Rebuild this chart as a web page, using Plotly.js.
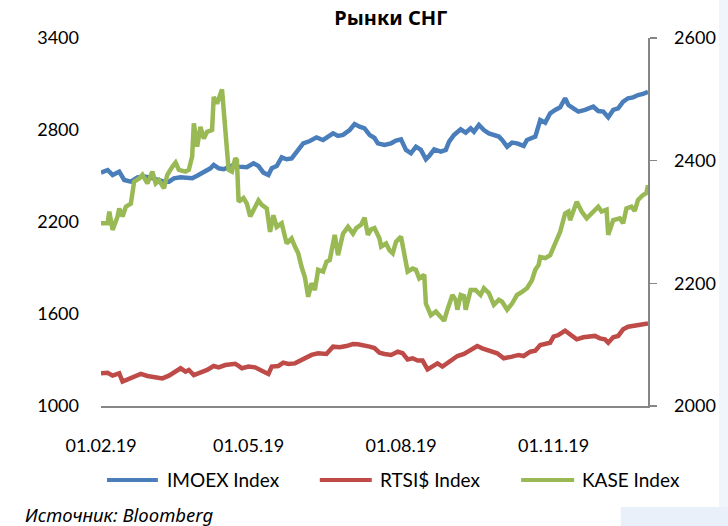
<!DOCTYPE html>
<html><head><meta charset="utf-8">
<script src="https://cdn.plot.ly/plotly-3.0.1.min.js"></script>
<style>html,body{margin:0;padding:0;background:#fff}</style>
</head><body><div id="chart" style="width:728px;height:526px"></div>
<script>
const imoexDates = ['2019-02-01','2019-02-05','2019-02-08','2019-02-12','2019-02-15','2019-02-19','2019-02-23','2019-02-27','2019-03-03','2019-03-07','2019-03-11','2019-03-14','2019-03-17','2019-03-21','2019-03-25','2019-03-28','2019-03-31','2019-04-04','2019-04-08','2019-04-10','2019-04-13','2019-04-16','2019-04-19','2019-04-22','2019-04-25','2019-04-27','2019-04-30','2019-05-04','2019-05-07','2019-05-10','2019-05-13','2019-05-15','2019-05-18','2019-05-21','2019-05-24','2019-05-27','2019-05-30','2019-06-03','2019-06-07','2019-06-11','2019-06-15','2019-06-18','2019-06-21','2019-06-24','2019-06-27','2019-07-01','2019-07-04','2019-07-07','2019-07-10','2019-07-13','2019-07-16','2019-07-18','2019-07-22','2019-07-26','2019-07-29','2019-08-01','2019-08-04','2019-08-07','2019-08-10','2019-08-13','2019-08-16','2019-08-18','2019-08-21','2019-08-25','2019-08-28','2019-08-30','2019-09-02','2019-09-06','2019-09-09','2019-09-12','2019-09-14','2019-09-17','2019-09-20','2019-09-23','2019-09-26','2019-09-29','2019-10-01','2019-10-04','2019-10-07','2019-10-10','2019-10-14','2019-10-16','2019-10-21','2019-10-24','2019-10-27','2019-10-30','2019-11-02','2019-11-05','2019-11-08','2019-11-10','2019-11-13','2019-11-16','2019-11-20','2019-11-25','2019-11-28','2019-12-01','2019-12-04','2019-12-07','2019-12-10','2019-12-13','2019-12-16','2019-12-19','2019-12-22','2019-12-25','2019-12-28'];
const imoexValues = [2522,2539,2507,2528,2474,2463,2491,2496,2489,2478,2463,2463,2485,2491,2489,2485,2502,2528,2550,2572,2550,2544,2557,2572,2561,2561,2557,2583,2565,2522,2507,2550,2565,2622,2609,2615,2659,2713,2728,2752,2735,2757,2778,2761,2768,2800,2839,2822,2811,2768,2748,2713,2702,2713,2731,2739,2670,2648,2691,2670,2609,2631,2674,2659,2670,2724,2768,2804,2783,2811,2789,2833,2800,2778,2768,2757,2735,2691,2718,2713,2696,2735,2757,2865,2848,2909,2931,2948,3007,2963,2941,2920,2931,2952,2924,2920,2883,2931,2941,2985,3007,3013,3028,3035,3050];

const rtsDates = ['2019-02-01','2019-02-05','2019-02-08','2019-02-12','2019-02-14','2019-02-18','2019-02-22','2019-02-25','2019-03-01','2019-03-06','2019-03-10','2019-03-14','2019-03-18','2019-03-21','2019-03-24','2019-03-26','2019-03-29','2019-04-02','2019-04-06','2019-04-10','2019-04-13','2019-04-17','2019-04-20','2019-04-23','2019-04-25','2019-04-27','2019-05-01','2019-05-05','2019-05-09','2019-05-13','2019-05-15','2019-05-19','2019-05-22','2019-05-25','2019-05-29','2019-06-01','2019-06-04','2019-06-08','2019-06-12','2019-06-17','2019-06-21','2019-06-25','2019-06-29','2019-07-03','2019-07-06','2019-07-10','2019-07-13','2019-07-16','2019-07-19','2019-07-22','2019-07-26','2019-07-30','2019-08-02','2019-08-05','2019-08-08','2019-08-11','2019-08-14','2019-08-17','2019-08-20','2019-08-23','2019-08-26','2019-08-29','2019-09-01','2019-09-04','2019-09-08','2019-09-12','2019-09-16','2019-09-19','2019-09-22','2019-09-25','2019-09-28','2019-10-02','2019-10-05','2019-10-07','2019-10-11','2019-10-14','2019-10-18','2019-10-21','2019-10-24','2019-10-27','2019-10-30','2019-11-01','2019-11-04','2019-11-08','2019-11-11','2019-11-15','2019-11-19','2019-11-23','2019-11-26','2019-11-29','2019-12-02','2019-12-04','2019-12-07','2019-12-10','2019-12-13','2019-12-16','2019-12-20','2019-12-24','2019-12-28'];
const rtsValues = [1213,1217,1198,1213,1159,1176,1196,1209,1196,1191,1180,1198,1224,1246,1224,1235,1202,1217,1235,1261,1252,1267,1272,1275,1262,1246,1257,1252,1230,1209,1257,1261,1283,1274,1278,1296,1317,1333,1344,1339,1387,1383,1391,1404,1402,1396,1387,1378,1348,1339,1333,1354,1344,1304,1311,1296,1296,1239,1257,1278,1257,1278,1300,1326,1339,1361,1391,1376,1365,1354,1344,1311,1322,1322,1333,1326,1354,1361,1398,1409,1413,1452,1463,1491,1463,1435,1448,1452,1457,1441,1435,1413,1448,1457,1500,1517,1522,1533,1539];

const kaseDates = ['2019-02-01','2019-02-05','2019-02-06','2019-02-08','2019-02-11','2019-02-12','2019-02-14','2019-02-16','2019-02-19','2019-02-21','2019-02-24','2019-02-26','2019-03-01','2019-03-04','2019-03-06','2019-03-08','2019-03-11','2019-03-13','2019-03-16','2019-03-18','2019-03-20','2019-03-24','2019-03-26','2019-03-28','2019-03-29','2019-03-31','2019-04-02','2019-04-04','2019-04-06','2019-04-09','2019-04-10','2019-04-12','2019-04-15','2019-04-17','2019-04-19','2019-04-21','2019-04-23','2019-04-24','2019-04-25','2019-04-28','2019-04-30','2019-05-02','2019-05-04','2019-05-07','2019-05-09','2019-05-12','2019-05-14','2019-05-16','2019-05-18','2019-05-21','2019-05-24','2019-05-27','2019-05-29','2019-05-31','2019-06-02','2019-06-04','2019-06-06','2019-06-08','2019-06-10','2019-06-12','2019-06-15','2019-06-17','2019-06-19','2019-06-22','2019-06-24','2019-06-27','2019-06-30','2019-07-03','2019-07-05','2019-07-08','2019-07-10','2019-07-12','2019-07-14','2019-07-16','2019-07-19','2019-07-20','2019-07-23','2019-07-25','2019-07-27','2019-07-29','2019-08-01','2019-08-03','2019-08-05','2019-08-08','2019-08-10','2019-08-12','2019-08-15','2019-08-16','2019-08-19','2019-08-22','2019-08-25','2019-08-27','2019-08-29','2019-09-01','2019-09-03','2019-09-04','2019-09-06','2019-09-08','2019-09-09','2019-09-12','2019-09-15','2019-09-18','2019-09-20','2019-09-23','2019-09-26','2019-09-29','2019-10-01','2019-10-04','2019-10-07','2019-10-10','2019-10-13','2019-10-16','2019-10-19','2019-10-21','2019-10-23','2019-10-24','2019-10-27','2019-10-30','2019-11-02','2019-11-05','2019-11-08','2019-11-10','2019-11-11','2019-11-15','2019-11-18','2019-11-21','2019-11-24','2019-11-28','2019-11-30','2019-12-03','2019-12-04','2019-12-07','2019-12-11','2019-12-13','2019-12-15','2019-12-18','2019-12-20','2019-12-22','2019-12-25','2019-12-27','2019-12-28'];
const kaseValues = [2298,2298,2317,2287,2309,2322,2309,2325,2330,2366,2371,2377,2363,2382,2363,2368,2355,2377,2390,2397,2385,2382,2385,2407,2461,2423,2455,2436,2447,2450,2504,2493,2516,2450,2385,2382,2404,2401,2333,2339,2330,2309,2320,2335,2328,2322,2284,2311,2292,2298,2265,2273,2260,2249,2227,2210,2178,2200,2189,2222,2219,2235,2238,2279,2246,2281,2292,2281,2290,2296,2307,2279,2288,2290,2273,2260,2265,2254,2249,2268,2276,2249,2219,2224,2222,2208,2214,2167,2148,2154,2146,2139,2157,2181,2173,2157,2181,2179,2157,2189,2189,2181,2192,2184,2165,2173,2170,2157,2167,2181,2186,2192,2205,2222,2230,2243,2241,2246,2265,2284,2314,2317,2303,2333,2317,2306,2314,2325,2317,2320,2279,2303,2306,2298,2322,2325,2318,2336,2344,2347,2360];

const seriesNames = ['IMOEX Index','RTSI$ Index','KASE Index'];
const seriesColors = ['#4A7EBB','#BE4B48','#98B954'];
const xTickVals = ['2019-02-01','2019-05-01','2019-08-01','2019-11-01'];
const leftTicks = [1000,1600,2200,2800,3400];
const rightTicks = [2000,2200,2400,2600];

// legend layout (paper fractions of the plot width): line start, line end, text start
const legendPos = [[0.011,0.104,0.117],[0.400,0.495,0.506],[0.768,0.865,0.876]];
const legendY = -0.201;

const font = 'Lato, "Noto Sans", sans-serif';
const traces = [
  {x: imoexDates, y: imoexValues, name: seriesNames[0], type:'scatter', mode:'lines', line:{color:seriesColors[0], width:4.5}, yaxis:'y'},
  {x: rtsDates, y: rtsValues, name: seriesNames[1], type:'scatter', mode:'lines', line:{color:seriesColors[1], width:4.5}, yaxis:'y'},
  {x: kaseDates, y: kaseValues, name: seriesNames[2], type:'scatter', mode:'lines', line:{color:seriesColors[2], width:4.5}, yaxis:'y2'}
];

const shapes = [
  {type:'rect', xref:'paper', yref:'paper', x0:1.1298, x1:1.15, y0:-0.33, y1:1.11, fillcolor:'#f0f4fb', line:{width:0}, layer:'below'},
  {type:'rect', xref:'paper', yref:'paper', x0:0.95, x1:1.15, y0:-0.33, y1:-0.2745, fillcolor:'#eaf0f9', line:{width:0}, layer:'below'}
];
const annotations = [
  {text:'<i>Источник: Bloomberg</i>', xref:'paper', yref:'paper', x:-0.1426, y:-0.2935, xanchor:'left', yanchor:'middle', showarrow:false, font:{family:'"Noto Sans", sans-serif', size:18.5, color:'#000'}}
];
seriesNames.forEach((n,i)=>{
  shapes.push({type:'line', xref:'paper', yref:'paper', x0:legendPos[i][0], x1:legendPos[i][1], y0:legendY, y1:legendY, line:{color:seriesColors[i], width:4}});
  annotations.push({text:n, xref:'paper', yref:'paper', x:legendPos[i][2], y:legendY, xanchor:'left', yanchor:'middle', showarrow:false, font:{family:font, size:19, color:'#000'}});
});

const layout = {
  width:728, height:526,
  margin:{l:101, r:80, t:38, b:120, autoexpand:false},
  paper_bgcolor:'#ffffff', plot_bgcolor:'#ffffff',
  font:{family:font, size:18, color:'#000'},
  title:{text:'<b>Рынки СНГ</b>', font:{family:'"Noto Sans", sans-serif', size:20, color:'#000'}, x:0.53, xref:'paper', xanchor:'center', y:1-18/526, yref:'container', yanchor:'middle'},
  xaxis:{type:'date', range:['2019-02-01','2019-12-28'], tickvals:xTickVals, tickformat:'%d.%m.%y', showline:true, linecolor:'#868686', linewidth:1.5, ticks:'', showgrid:false, zeroline:false, tickfont:{family:font,size:18,color:'#000'}, ticklabelstandoff:23},
  yaxis:{range:[1000,3400], tickvals:leftTicks, showline:false, ticks:'', showgrid:false, zeroline:false, tickfont:{family:font,size:18,color:'#000'}, ticklabelstandoff:21},
  yaxis2:{range:[2000,2600], tickvals:rightTicks, overlaying:'y', side:'right', showline:true, linecolor:'#868686', linewidth:1.5, ticks:'outside', ticklen:7, tickwidth:1.5, tickcolor:'#868686', showgrid:false, zeroline:false, tickfont:{family:font,size:18,color:'#000'}, ticklabelstandoff:14},
  showlegend:false,
  annotations: annotations,
  shapes: shapes
};
Plotly.newPlot('chart', traces, layout, {displayModeBar:false, staticPlot:true});
</script></body></html>
